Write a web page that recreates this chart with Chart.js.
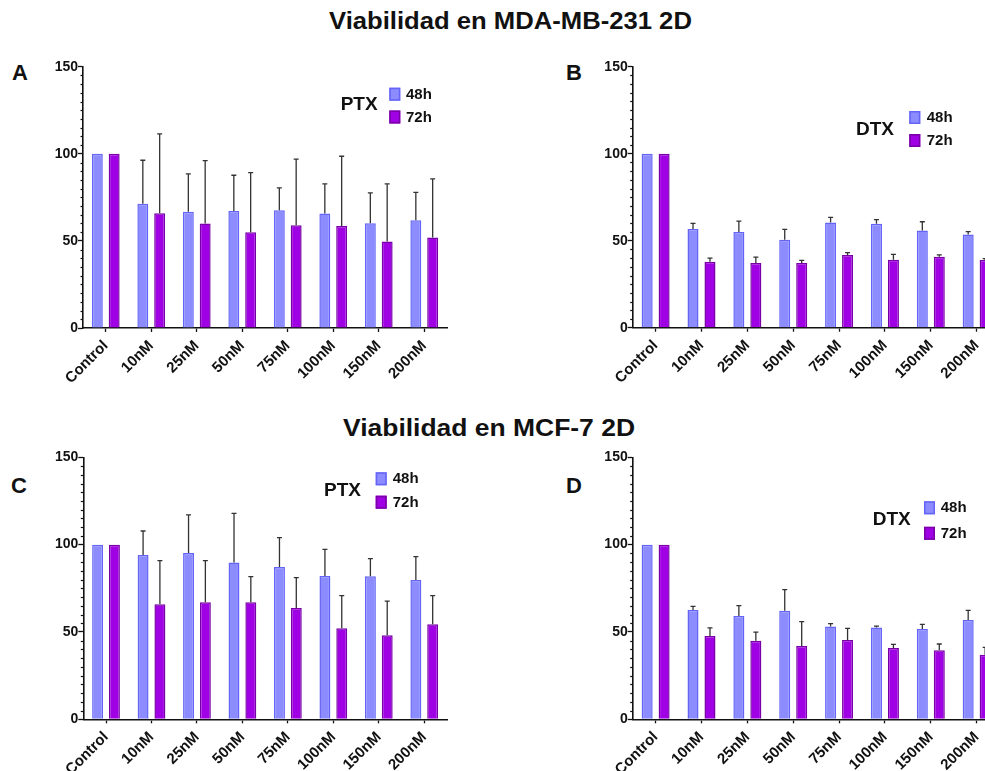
<!DOCTYPE html>
<html>
<head>
<meta charset="utf-8">
<script src="https://cdn.jsdelivr.net/npm/chart.js@4/dist/chart.umd.min.js"></script>
<style>
  html, body { margin: 0; padding: 0; background: #fff; }
  #page { position: relative; width: 985px; height: 771px; overflow: hidden; background: #fff;
          font-family: "Liberation Sans", Arial, sans-serif; color: #111; }
  .title { position: absolute; font-weight: bold; font-size: 23px; white-space: nowrap; transform-origin: 0 50%; }
  .letter { position: absolute; font-weight: bold; font-size: 22px; }
  .panel { position: absolute; }
</style>
</head>
<body>
<div id="page">
  <div class="title" style="left:329px; top:8px; transform: scaleX(1.115);">Viabilidad en MDA-MB-231 2D</div>
  <div class="title" style="left:343px; top:415px; transform: scaleX(1.15);">Viabilidad en MCF-7 2D</div>
  <div class="letter" style="left:12px; top:60px;">A</div>
  <div class="letter" style="left:566px; top:60px;">B</div>
  <div class="letter" style="left:11px; top:473px;">C</div>
  <div class="letter" style="left:566px; top:473px;">D</div>

  <div class="panel" style="left:0px; top:40px;"><canvas id="cA" width="470" height="345"></canvas></div>
  <div class="panel" style="left:540px; top:40px;"><canvas id="cB" width="470" height="345"></canvas></div>
  <div class="panel" style="left:0px; top:430px;"><canvas id="cC" width="470" height="341"></canvas></div>
  <div class="panel" style="left:540px; top:430px;"><canvas id="cD" width="470" height="341"></canvas></div>
</div>
<script>
// Concentrations on the x axis
const categories = ['Control', '10nM', '25nM', '50nM', '75nM', '100nM', '150nM', '200nM'];
const seriesNames = ['48h', '72h'];
const yTicks = [0, 50, 100, 150];

// MDA-MB-231, paclitaxel (PTX): mean viability (%) and SD
const mdaPtx48   = [100, 71.3, 66.7, 67.1, 67.6, 65.7, 60.2, 61.9];
const mdaPtx48Sd = [0, 25.0, 21.8, 20.6, 12.8, 17.0, 17.4, 15.9];
const mdaPtx72   = [100, 65.9, 60.0, 55.0, 59.0, 58.5, 49.7, 52.0];
const mdaPtx72Sd = [0, 45.5, 36.1, 34.2, 37.9, 40.1, 33.0, 33.6];

// MDA-MB-231, docetaxel (DTX)
const mdaDtx48   = [100, 56.7, 55.0, 50.6, 60.5, 59.8, 55.9, 53.6];
const mdaDtx48Sd = [0, 3.3, 6.3, 5.9, 2.9, 2.3, 5.0, 1.6];
const mdaDtx72   = [100, 37.9, 37.2, 37.2, 41.8, 39.1, 40.8, 38.9];
const mdaDtx72Sd = [0, 2.1, 3.4, 1.5, 1.3, 3.0, 1.0, 0.8];

// MCF-7, paclitaxel (PTX)
const mcfPtx48   = [100, 94.1, 95.2, 89.7, 87.2, 82.1, 81.9, 79.8];
const mcfPtx48Sd = [0, 13.7, 21.8, 28.2, 16.8, 15.2, 10.1, 13.3];
const mcfPtx72   = [100, 65.8, 67.0, 67.0, 63.7, 52.1, 48.1, 54.4];
const mcfPtx72Sd = [0, 25.0, 23.8, 14.7, 17.4, 18.7, 19.6, 16.4];

// MCF-7, docetaxel (DTX)
const mcfDtx48   = [100, 62.6, 59.2, 62.2, 53.1, 52.5, 51.7, 56.8];
const mcfDtx48Sd = [0, 2.1, 5.9, 12.0, 1.7, 0.8, 2.7, 5.6];
const mcfDtx72   = [100, 47.7, 45.0, 42.0, 45.4, 40.8, 39.5, 37.0];
const mcfDtx72Sd = [0, 4.6, 4.9, 13.9, 6.7, 2.1, 3.6, 4.2];

const FONT = '"Liberation Sans", Arial, sans-serif';
const INK = '#111';
const fills   = ['#8C8CFF', '#A000E4'];
const borders = ['#6464F6', '#7800A6'];

// Upward SD whiskers with a small cap
const errorBars = {
  id: 'errorBars',
  afterDatasetsDraw(chart) {
    const ctx = chart.ctx, y = chart.scales.y;
    ctx.save();
    ctx.strokeStyle = '#333';
    ctx.lineWidth = 1.3;
    chart.data.datasets.forEach((ds, i) => {
      const meta = chart.getDatasetMeta(i);
      meta.data.forEach((bar, j) => {
        const sd = ds.sd[j];
        if (!sd) return;
        const top = y.getPixelForValue(ds.data[j] + sd);
        ctx.beginPath();
        ctx.moveTo(bar.x, bar.y);
        ctx.lineTo(bar.x, top);
        ctx.moveTo(bar.x - 2.5, top);
        ctx.lineTo(bar.x + 2.5, top);
        ctx.stroke();
      });
    });
    ctx.restore();
  }
};

// Short minor ticks every 5 units on the y axis
const minorTicks = {
  id: 'minorTicks',
  afterDraw(chart) {
    const ctx = chart.ctx, y = chart.scales.y, x0 = chart.chartArea.left;
    ctx.save();
    ctx.strokeStyle = INK;
    ctx.lineWidth = 1.2;
    for (let v = 5; v < 150; v += 5) {
      if (v % 50 === 0) continue;
      const py = Math.round(y.getPixelForValue(v)) + 0.5;
      ctx.beginPath();
      ctx.moveTo(x0 - 2.5, py);
      ctx.lineTo(x0, py);
      ctx.stroke();
    }
    ctx.restore();
  }
};

// Drug name beside a two-entry key
const sideLegend = {
  id: 'sideLegend',
  afterDraw(chart, args, opts) {
    const ctx = chart.ctx, a = chart.chartArea;
    ctx.save();
    ctx.fillStyle = INK;
    ctx.textBaseline = 'middle';
    ctx.font = 'bold 19px ' + FONT;
    ctx.fillText(opts.drug, a.left + opts.drugX, a.top + opts.drugY);
    chart.data.datasets.forEach((ds, i) => {
      const bx = a.left + opts.boxX, cy = a.top + opts.rowY[i];
      ctx.fillStyle = ds.backgroundColor;
      ctx.strokeStyle = ds.borderColor;
      ctx.lineWidth = 1.5;
      ctx.fillRect(bx, cy - 6.5, 11, 13);
      ctx.strokeRect(bx + 0.75, cy - 5.75, 9.5, 11.5);
      ctx.fillStyle = INK;
      ctx.font = 'bold 15px ' + FONT;
      ctx.fillText(ds.label, a.left + opts.textX, cy + 0.5);
    });
    ctx.restore();
  }
};

function makePanel(id, cfg) {
  return new Chart(document.getElementById(id), {
    type: 'bar',
    data: {
      labels: categories,
      datasets: [
        { label: seriesNames[0], data: cfg.s48, sd: cfg.s48Sd,
          backgroundColor: fills[0], borderColor: borders[0], borderWidth: 1.5 },
        { label: seriesNames[1], data: cfg.s72, sd: cfg.s72Sd,
          backgroundColor: fills[1], borderColor: borders[1], borderWidth: 1.5 }
      ]
    },
    options: {
      responsive: false,
      animation: false,
      devicePixelRatio: 1,
      categoryPercentage: 0.74,
      barPercentage: 0.65,
      layout: { padding: { left: 0, right: cfg.padRight, top: cfg.padTop, bottom: 0 } },
      plugins: {
        legend: { display: false },
        tooltip: { enabled: false },
        sideLegend: cfg.legend
      },
      scales: {
        x: {
          afterFit: s => { s.height = cfg.xHeight; },
          grid: { display: true, drawOnChartArea: false, offset: false,
                  tickLength: 4, tickWidth: 1.3, tickColor: INK },
          border: { display: true, color: INK, width: 1.6 },
          ticks: { color: INK, font: { family: FONT, size: 15, weight: 'bold' },
                   minRotation: 45, maxRotation: 45, autoSkip: false, padding: 5 }
        },
        y: {
          min: 0, max: 150,
          afterFit: s => { s.width = cfg.yWidth; },
          afterBuildTicks: s => { s.ticks = yTicks.map(v => ({ value: v })); },
          grid: { display: true, drawOnChartArea: false,
                  tickLength: 5, tickWidth: 1.3, tickColor: INK },
          border: { display: true, color: INK, width: 1.6 },
          ticks: { color: INK, font: { family: FONT, size: 14, weight: 'bold' }, padding: 0 }
        }
      }
    },
    plugins: [errorBars, minorTicks, sideLegend]
  });
}

makePanel('cA', {
  s48: mdaPtx48, s48Sd: mdaPtx48Sd, s72: mdaPtx72, s72Sd: mdaPtx72Sd,
  padRight: 23, padTop: 26.7, yWidth: 83, xHeight: 57,
  legend: { drug: 'PTX', drugX: 257.7, drugY: 38.3, boxX: 306.3, textX: 323, rowY: [27.5, 50.3] }
});
makePanel('cB', {
  s48: mdaDtx48, s48Sd: mdaDtx48Sd, s72: mdaDtx72, s72Sd: mdaDtx72Sd,
  padRight: 10.4, padTop: 26.7, yWidth: 92.7, xHeight: 57.3,
  legend: { drug: 'DTX', drugX: 223.3, drugY: 63.3, boxX: 276.6, textX: 294, rowY: [50.8, 73.8] }
});
makePanel('cC', {
  s48: mcfPtx48, s48Sd: mcfPtx48Sd, s72: mcfPtx72, s72Sd: mcfPtx72Sd,
  padRight: 23, padTop: 27.3, yWidth: 83.3, xHeight: 51.7,
  legend: { drug: 'PTX', drugX: 240.7, drugY: 33, boxX: 292.4, textX: 309.4, rowY: [21.5, 44.9] }
});
makePanel('cD', {
  s48: mcfDtx48, s48Sd: mcfDtx48Sd, s72: mcfDtx72, s72Sd: mcfDtx72Sd,
  padRight: 10.4, padTop: 27.3, yWidth: 92.7, xHeight: 51.7,
  legend: { drug: 'DTX', drugX: 240, drugY: 62.7, boxX: 291.3, textX: 308, rowY: [50.5, 76] }
});
</script>
</body>
</html>
